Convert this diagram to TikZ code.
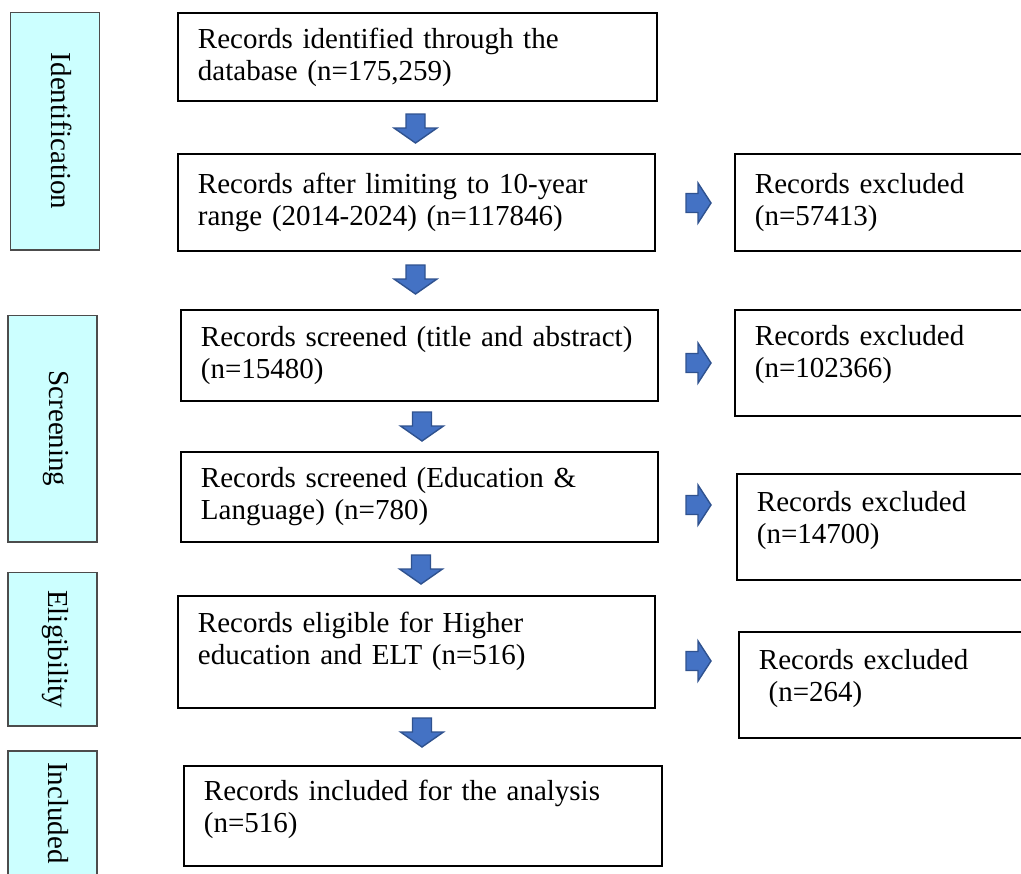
\documentclass[tikz,border=0pt]{standalone}
\usepackage{fontspec}
\setmainfont{Liberation Serif}

\definecolor{stagecyan}{HTML}{CCFFFF}
\definecolor{arrowfill}{HTML}{4472C4}
\definecolor{arrowline}{HTML}{2F528F}

\tikzset{
	recbox/.style={draw, line width=1.1pt, anchor=north west, align=left,
		inner xsep=0.4cm, inner ysep=0pt, font=\fontsize{16.5}{18.2}\selectfont},
	stagebox/.style={draw=black!70, fill=stagecyan, line width=0.6pt, rotate=-90,
		minimum height=1.78cm, inner sep=0pt, text depth=0.25cm,
		font=\fontsize{16.5}{18.2}\selectfont},
	pics/dnarrow/.style={code={
		\filldraw[fill=arrowfill, draw=arrowline, line width=0.8pt]
			(-9.5,-14) -- (9.5,-14) -- (9.5,0) -- (21.5,0) -- (0,15) -- (-21.5,0) -- (-9.5,0) -- cycle;}},
	pics/rtarrow/.style={code={
		\filldraw[fill=arrowfill, draw=arrowline, line width=0.8pt]
			(-12,-9.5) -- (0,-9.5) -- (0,-20) -- (13,0) -- (0,20) -- (0,9.5) -- (-12,9.5) -- cycle;}}
}

\begin{document}
\begin{tikzpicture}[x=0.02cm, y=-0.02cm]
	\useasboundingbox (0,0) rectangle (1021,873);

	% stages
	\node[stagebox, minimum width=4.76cm] (ident) at (55,131) {Identification};
	\node[stagebox, minimum width=4.54cm] (screen) at (52.5,428.5) {Screening};
	\node[stagebox, minimum width=3.08cm] (elig) at (52.5,649) {Eligibility};
	\node[stagebox, minimum width=2.48cm] (incl) at (52.5,813) {Included};

	% main column
	\node[recbox, text width=8.78cm, minimum height=1.76cm] (rec1) at (177,12)
		{Records identified through the\\database (n=175,259)};
	\node[recbox, text width=8.74cm, minimum height=1.94cm] (rec2) at (177,153)
		{Records after limiting to 10-year\\range (2014-2024) (n=117846)};
	\node[recbox, text width=8.74cm, minimum height=1.82cm] (rec3) at (180,309)
		{Records screened (title and abstract)\\(n=15480)};
	\node[recbox, text width=8.74cm, minimum height=1.80cm] (rec4) at (180,451)
		{Records screened (Education \&\\Language) (n=780)};
	\node[recbox, text width=8.74cm, minimum height=2.24cm, text depth=1.18cm] (rec5) at (177,595)
		{Records eligible for Higher\\education and ELT (n=516)};
	\node[recbox, text width=8.76cm, minimum height=2.00cm, text depth=1.02cm] (rec6) at (183,765)
		{Records included for the analysis\\(n=516)};

	% excluded
	\node[recbox, text width=5.2cm, minimum height=1.94cm] (excl1) at (734,153)
		{Records excluded\\(n=57413)};
	\node[recbox, text width=5.2cm, minimum height=2.12cm, text depth=1.12cm] (excl2) at (734,309)
		{Records excluded\\(n=102366)};
	\node[recbox, text width=5.2cm, minimum height=2.12cm, text depth=1.02cm] (excl3) at (736,473)
		{Records excluded\\(n=14700)};
	\node[recbox, text width=5.2cm, minimum height=2.12cm, text depth=1.02cm] (excl4) at (738,631)
		{Records excluded\\\ (n=264)};

	% block arrows
	\pic at (415.5,128) {dnarrow};
	\pic at (415.5,279) {dnarrow};
	\pic at (422,426) {dnarrow};
	\pic at (421,569) {dnarrow};
	\pic at (422,732) {dnarrow};

	\pic at (698,203) {rtarrow};
	\pic at (698,363) {rtarrow};
	\pic at (698,505) {rtarrow};
	\pic at (698,661) {rtarrow};
\end{tikzpicture}
\end{document}
